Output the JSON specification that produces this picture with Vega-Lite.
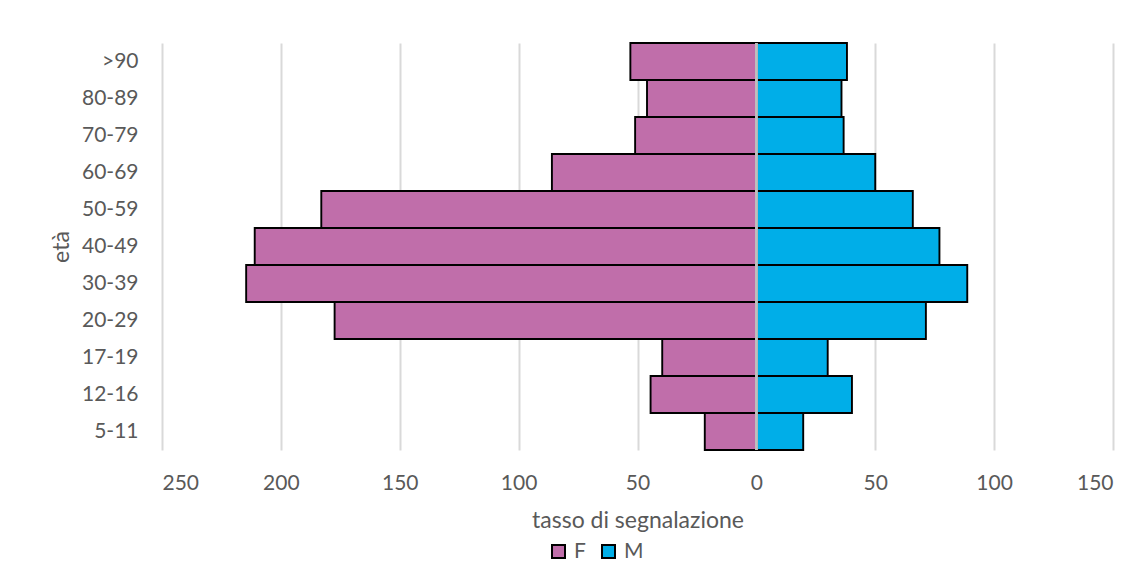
{
  "$schema": "https://vega.github.io/schema/vega-lite/v6.json",
  "width": 951,
  "height": 407,
  "autosize": "none",
  "padding": {"left": 162, "top": 43, "right": 35, "bottom": 133},
  "background": "white",
  "config": {
    "view": {"stroke": null},
    "font": "Lato",
    "axis": {"labelFont": "Lato", "titleFont": "Lato", "labelColor": "#595959", "titleColor": "#595959", "titleFontWeight": "normal", "labelFontSize": 21, "titleFontSize": 23},
    "legend": {"labelFont": "Lato", "labelFontSize": 21, "labelColor": "#595959"}
  },
  "data": {
    "values": [
      {"age": ">90", "sex": "F", "value": 53},
      {"age": "80-89", "sex": "F", "value": 46},
      {"age": "70-79", "sex": "F", "value": 51},
      {"age": "60-69", "sex": "F", "value": 86},
      {"age": "50-59", "sex": "F", "value": 183},
      {"age": "40-49", "sex": "F", "value": 211},
      {"age": "30-39", "sex": "F", "value": 214.6},
      {"age": "20-29", "sex": "F", "value": 177.4},
      {"age": "17-19", "sex": "F", "value": 39.6},
      {"age": "12-16", "sex": "F", "value": 44.5},
      {"age": "5-11", "sex": "F", "value": 21.7},
      {"age": ">90", "sex": "M", "value": 38.1},
      {"age": "80-89", "sex": "M", "value": 35.8},
      {"age": "70-79", "sex": "M", "value": 36.7},
      {"age": "60-69", "sex": "M", "value": 50},
      {"age": "50-59", "sex": "M", "value": 65.8},
      {"age": "40-49", "sex": "M", "value": 77},
      {"age": "30-39", "sex": "M", "value": 88.7},
      {"age": "20-29", "sex": "M", "value": 71.3},
      {"age": "17-19", "sex": "M", "value": 30},
      {"age": "12-16", "sex": "M", "value": 40.2},
      {"age": "5-11", "sex": "M", "value": 19.7}
    ]
  },
  "encoding": {
    "y": {
      "field": "age",
      "type": "nominal",
      "sort": [">90", "80-89", "70-79", "60-69", "50-59", "40-49", "30-39", "20-29", "17-19", "12-16", "5-11"],
      "scale": {"paddingInner": 0, "paddingOuter": 0},
      "axis": {"title": "età", "ticks": false, "domain": false, "labelPadding": 24, "titlePadding": 8, "grid": false}
    }
  },
  "layer": [
    {
      "transform": [{"filter": "datum.sex === 'M'"}],
      "mark": {"type": "bar", "stroke": "black", "strokeWidth": 1.9},
      "encoding": {
        "x": {
          "field": "value",
          "type": "quantitative",
          "scale": {"domain": [-250, 150], "nice": false},
          "axis": {
            "title": "tasso di segnalazione",
            "values": [-250, -200, -150, -100, -50, 0, 50, 100, 150],
            "labelExpr": "format(abs(datum.value), 'd')",
            "ticks": false,
            "domain": false,
            "grid": true,
            "gridColor": "#D9D9D9",
            "gridWidth": 2,
            "labelPadding": 22,
            "titlePadding": 16
          }
        },
        "color": {
          "field": "sex",
          "type": "nominal",
          "scale": {"domain": ["F", "M"], "range": ["#C06EAA", "#00AEE8"]},
          "legend": {
            "title": null,
            "orient": "none",
            "direction": "horizontal",
            "legendX": 386,
            "legendY": 498,
            "symbolType": "square",
            "symbolSize": 169,
            "symbolStrokeColor": "black",
            "symbolStrokeWidth": 2,
            "symbolOpacity": 1,
            "labelOffset": 5,
            "columnPadding": 12
          }
        }
      }
    },
    {
      "transform": [{"filter": "datum.sex === 'F'"}],
      "mark": {"type": "bar", "stroke": "black", "strokeWidth": 1.9},
      "encoding": {
        "x": {
          "field": "value",
          "type": "quantitative",
          "scale": {"domain": [-150, 250], "nice": false, "reverse": true},
          "axis": null
        },
        "color": {"field": "sex", "type": "nominal"}
      }
    },
    {
      "mark": {"type": "rule", "color": "#BFBFBF", "strokeWidth": 1.5},
      "encoding": {
        "x": {"datum": 0, "type": "quantitative", "scale": {"domain": [-250, 150], "nice": false}, "axis": null},
        "y": null
      }
    }
  ],
  "resolve": {"scale": {"x": "independent"}}
}
